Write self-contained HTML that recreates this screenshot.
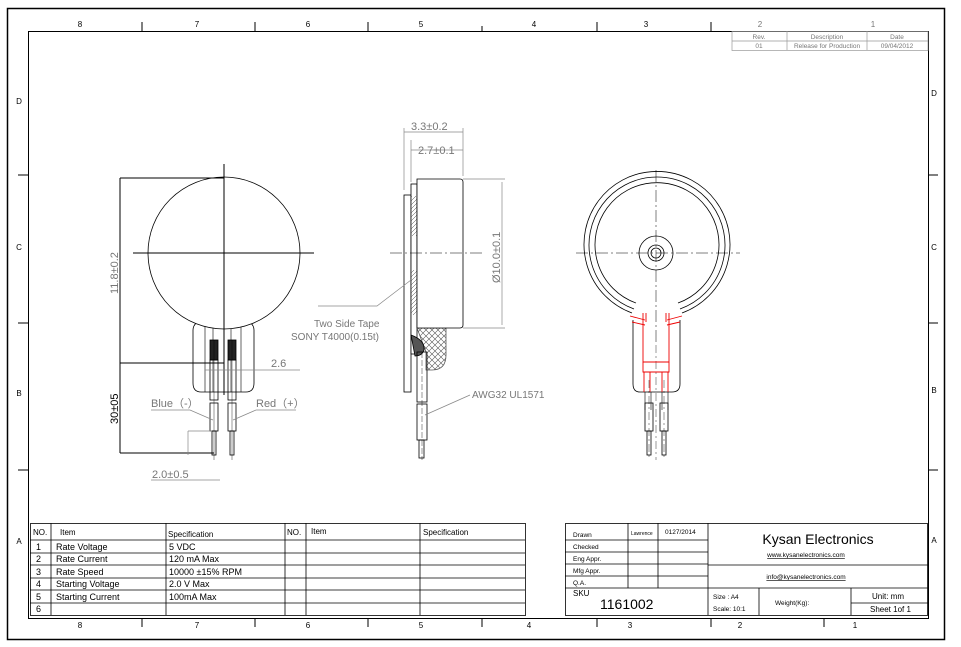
<!DOCTYPE html>
<html><head><meta charset="utf-8"><style>
body{margin:0;background:#fff}
svg{display:block;font-family:"Liberation Sans",Arial,sans-serif}
</style></head><body>
<svg width="961" height="647" viewBox="0 0 961 647" xmlns="http://www.w3.org/2000/svg">
<defs>
<pattern id="xh" width="6" height="6" patternUnits="userSpaceOnUse"><path d="M0 0L6 6M6 0L0 6" stroke="#555" stroke-width="0.6"/></pattern>
<pattern id="hh" width="4" height="4" patternUnits="userSpaceOnUse"><path d="M0 4L4 0" stroke="#444" stroke-width="0.5"/></pattern>
</defs>
<rect width="961" height="647" fill="#fff"/>
<!-- outer frame -->
<rect x="7.5" y="8.5" width="937" height="631" fill="none" stroke="#000" stroke-width="1.5"/>
<rect x="28.5" y="31.5" width="900" height="587" fill="none" stroke="#000" stroke-width="1"/>
<g stroke="#000" stroke-width="1">
<path d="M142 22V31M255 22V31M368 22V31M482 26V31M597 22V31M711 22V31"/>
<path d="M142 618V627M255 618V627M368 618V627M482 618V627M597 618V627M711 618V627M824 618V627"/>
<path d="M18 175H28M18 323H28M18 470H28M928 175H938M928 323H938M928 470H938"/>
</g>
<g font-size="8" fill="#000" text-anchor="middle">
<text x="80" y="27">8</text><text x="197" y="27">7</text><text x="308" y="27">6</text><text x="421" y="27">5</text><text x="534" y="27">4</text><text x="646" y="27">3</text><text x="760" y="27" fill="#777">2</text><text x="873" y="27" fill="#777">1</text>
<text x="80" y="628">8</text><text x="197" y="628">7</text><text x="308" y="628">6</text><text x="421" y="628">5</text><text x="529" y="628">4</text><text x="630" y="628">3</text><text x="740" y="628">2</text><text x="855" y="628">1</text>
<text x="19" y="104">D</text><text x="19" y="250">C</text><text x="19" y="396">B</text><text x="19" y="544">A</text>
<text x="934" y="96">D</text><text x="934" y="250">C</text><text x="934" y="393">B</text><text x="934" y="543">A</text>
</g>
<!-- revision block -->
<g stroke="#999" stroke-width="0.7" fill="none">
<rect x="732" y="31.5" width="196" height="19"/>
<path d="M732 41H928M787 31V50M867 31V50"/>
</g>
<g font-size="6.5" fill="#777" text-anchor="middle">
<text x="759" y="39">Rev.</text><text x="827" y="39">Description</text><text x="897" y="39">Date</text>
<text x="759" y="48">01</text><text x="827" y="48">Release for Production</text><text x="897" y="48">09/04/2012</text>
</g>

<!-- LEFT VIEW -->
<g stroke="#000" stroke-width="0.8" fill="none">
<path d="M206 318 Q193 322 193 330 V383 Q193 392 201 392 H246 Q254 392 254 383 V330 Q254 322 241 318"/>
<path d="M205 320V392M213 320V392M231 320V392M241 320V392" stroke-width="0.6"/>
<circle cx="224" cy="253" r="76" fill="#fff"/>
<path d="M133 253H314M224 164V395" stroke-width="1"/>
<rect x="210" y="340" width="8" height="20" fill="#222"/>
<rect x="228" y="340" width="8" height="20" fill="#222"/>
<rect x="210" y="360" width="8" height="40"/><rect x="228" y="360" width="8" height="40"/>
<rect x="210" y="403" width="8" height="28"/><rect x="228" y="403" width="8" height="28"/>
<rect x="212" y="431" width="4" height="24"/><rect x="230" y="431" width="4" height="24"/>
<path d="M214 340V460M232 340V460" stroke-width="0.4"/>
<path d="M120 178H224M120 178V453M120 363H224M120 453H214" stroke-width="1"/>
</g>
<g stroke="#888" stroke-width="0.7" fill="none">
<path d="M205 370H300M188 431V455M188 431H212"/>
<path d="M151 410H190L213 420M256 410H296M256 410L233 420"/>
</g>
<g font-size="11" fill="#777">
<text transform="translate(118 294) rotate(-90)">11.8±0.2</text>
<text x="271" y="367">2.6</text>
<text x="151" y="407">Blue（-）</text>
<text x="256" y="407">Red（+）</text>
<text x="152" y="478">2.0±0.5</text>
<path d="M151 480H220" stroke="#888" stroke-width="0.7"/>
</g>
<text transform="translate(118 424) rotate(-90)" font-size="11" fill="#000">30±05</text>

<!-- MIDDLE VIEW -->
<g stroke="#000" stroke-width="0.8" fill="none">
<rect x="404" y="195" width="7" height="197" fill="#fff"/>
<rect x="411" y="184" width="6" height="170" fill="#fff"/>
<rect x="411" y="196" width="6" height="40" fill="url(#hh)" stroke="none"/>
<rect x="411" y="270" width="6" height="45" fill="url(#hh)" stroke="none"/>
<path d="M417 328H446V355Q446 370 432 370H426V352Z" fill="url(#xh)" stroke="#555"/>
<path d="M417 328H460Q463 328 463 325V182Q463 179 460 179H417Z" fill="#fff"/>
<path d="M411 335Q425 340 424 350Q422 356 415 356Z" fill="#555"/>
<rect x="417" y="352" width="10" height="50"/>
<rect x="417" y="404" width="10" height="36"/>
<rect x="419" y="440" width="5" height="18"/>
<path d="M422 352V460" stroke-width="0.4" stroke-dasharray="6 2"/>
<path d="M390 253H485" stroke-width="0.6" stroke-dasharray="12 3 2 3"/>
</g>
<g stroke="#888" stroke-width="0.7" fill="none">
<path d="M404 128V190M411 140V182M463 128V176M404 132H463M411 150H463"/>
<path d="M463 179H505M463 328H505M502 182V325"/>
<path d="M318 306H377L411 280"/>
<path d="M470 395L425 415"/>
</g>
<g font-size="11" fill="#777">
<text x="411" y="130">3.3±0.2</text>
<text x="418" y="154">2.7±0.1</text>
<text transform="translate(500 283) rotate(-90)">Ø10.0±0.1</text>
<text x="314" y="327" font-size="10">Two Side Tape</text>
<text x="291" y="340" font-size="10">SONY T4000(0.15t)</text>
<text x="472" y="398" font-size="10">AWG32  UL1571</text>
</g>

<!-- RIGHT VIEW -->
<g stroke="#000" stroke-width="0.8" fill="none">
<path d="M632 313 A73 73 0 1 1 682 313"/>
<path d="M634 309 A68 68 0 1 1 680 309"/>
<path d="M636 303 A62 62 0 1 1 678 303"/>
<circle cx="656" cy="253" r="17"/>
<circle cx="656" cy="253" r="8"/><circle cx="656" cy="253" r="5"/>
<path d="M633 320V384Q633 392 640 392H672Q680 392 680 384V320"/>
<path d="M645 392V410M651 392V410M662 392V410M668 392V410" stroke-width="0.6"/>
<rect x="645" y="403" width="8" height="28"/><rect x="660" y="403" width="8" height="28"/>
<rect x="647" y="431" width="4" height="24"/><rect x="662" y="431" width="4" height="24"/>
<path d="M576 253H740M656 170V345" stroke-width="0.5" stroke-dasharray="12 3 2 3"/>
<path d="M656 345V460M649 380V460M664 380V460" stroke-width="0.4" stroke-dasharray="8 3 2 3"/>
</g>
<g stroke="#e00" stroke-width="0.9" fill="none">
<path d="M630 316L645 320M632 322L645 325M682 316L667 320M680 322L667 325"/>
<path d="M643 313V362H669V313"/>
<path d="M646 313V322M666 313V322"/>
<path d="M643 362V372H669V362M644 372V392M650 372V392M662 372V392M668 372V392"/>
</g>

<!-- SPEC TABLE -->
<g stroke="#000" stroke-width="0.8" fill="none">
<rect x="30.5" y="523.5" width="495" height="92"/>
<path d="M30 540H525M30 553H525M30 565H525M30 578H525M30 590H525M30 603H525"/>
<path d="M51 523V615M166 523V615M285 523V615M306 523V615M420 523V615"/>
</g>
<g font-size="8" fill="#000">
<text x="33" y="535">NO.</text><text x="60" y="535">Item</text><text x="168" y="537">Specification</text>
<text x="287" y="535">NO.</text><text x="311" y="534">Item</text><text x="423" y="535">Specification</text>
<g font-size="9">
<text x="36" y="550">1</text><text x="56" y="550">Rate Voltage</text><text x="169" y="550">5 VDC</text>
<text x="36" y="562">2</text><text x="56" y="562">Rate Current</text><text x="169" y="562">120 mA  Max</text>
<text x="36" y="575">3</text><text x="56" y="575">Rate Speed</text><text x="169" y="575">10000 ±15% RPM</text>
<text x="36" y="587">4</text><text x="56" y="587">Starting Voltage</text><text x="169" y="587">2.0 V Max</text>
<text x="36" y="600">5</text><text x="56" y="600">Starting Current</text><text x="169" y="600">100mA  Max</text>
<text x="36" y="612">6</text>
</g></g>

<!-- TITLE BLOCK -->
<g stroke="#000" stroke-width="0.8" fill="none">
<rect x="565.5" y="523.5" width="362" height="92"/>
<path d="M565 540H708M565 552H708M565 564H708M565 576H708M565 588H928M708 565H928M851 603H928"/>
<path d="M628 523V588M658 523V588M708 523V615M759 588V615M851 588V615"/>
</g>
<g font-size="6.5" fill="#000">
<text x="573" y="537">Drawn</text><text x="631" y="535" font-size="5">Lawrence</text><text x="665" y="534">0127/2014</text>
<text x="573" y="549">Checked</text><text x="573" y="561">Eng Appr.</text><text x="573" y="573">Mfg Appr.</text><text x="573" y="585">Q.A.</text>
<text x="573" y="596" font-size="8">SKU</text>
<text x="600" y="609" font-size="14">1161002</text>
<text x="713" y="599">Size : A4</text><text x="713" y="611">Scale: 10:1</text>
<text x="775" y="605">Weight(Kg):</text>
<text x="872" y="599" font-size="8">Unit: mm</text><text x="870" y="612" font-size="8">Sheet 1of 1</text>
<text x="818" y="544" font-size="14" text-anchor="middle">Kysan Electronics</text>
<text x="806" y="557" font-size="6.5" text-anchor="middle" text-decoration="underline">www.kysanelectronics.com</text>
<text x="806" y="579" font-size="6.5" text-anchor="middle" text-decoration="underline">info@kysanelectronics.com</text>
</g>
</svg>
</body></html>
